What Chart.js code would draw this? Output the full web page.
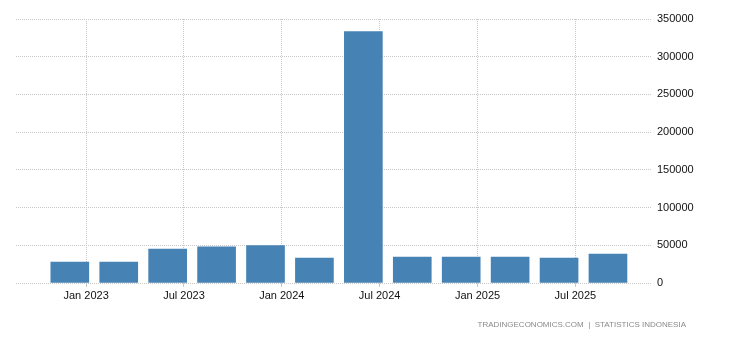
<!DOCTYPE html>
<html>
<head>
<meta charset="utf-8">
<script src="https://cdn.jsdelivr.net/npm/chart.js@4.4.1/dist/chart.umd.min.js"></script>
<style>
body { margin: 0; background: #fff; }
#wrap { position: relative; width: 730px; height: 340px; }
#src { position: absolute; right: 44px; top: 320px; font: 8px Arial, "Liberation Sans", sans-serif; color: #8a8a8a; white-space: nowrap; }
</style>
</head>
<body>
<div id="wrap">
  <canvas id="myChart" width="730" height="340"></canvas>
  <div id="src">TRADINGECONOMICS.COM &nbsp;|&nbsp; STATISTICS INDONESIA</div>
</div>
<script>
// quarters (end month), counted in months from Jan 2023
var quarterMonths = [-1, 2, 5, 8, 11, 14, 17, 20, 23, 26, 29, 32];
var values = [27900, 27900, 45100, 47800, 49600, 33200, 333300, 34500, 34500, 34500, 33200, 38500];

// x axis ticks
var tickMonths = [0, 6, 12, 18, 24, 30];
var tickLabels = ['Jan 2023', 'Jul 2023', 'Jan 2024', 'Jul 2024', 'Jan 2025', 'Jul 2025'];

var yTicks = [0, 50000, 100000, 150000, 200000, 250000, 300000, 350000];

var ctx = document.getElementById('myChart').getContext('2d');

var points = quarterMonths.map(function (m, i) {
    return { x: m, y: values[i] };
});

var gridColor = '#c8c8c8';

var myChart = new Chart(ctx, {
    type: 'bar',
    data: {
        datasets: [{
            data: points,
            backgroundColor: '#4682b4',
            borderWidth: 0,
            barThickness: 38
        }]
    },
    options: {
        responsive: false,
        animation: false,
        devicePixelRatio: 1,
        layout: { padding: { left: 16, top: 19, right: 0, bottom: 0 } },
        plugins: { legend: { display: false }, tooltip: { enabled: false } },
        scales: {
            x: {
                type: 'linear',
                offset: false,
                min: -4.3,
                max: 34.7,
                afterBuildTicks: function (scale) {
                    scale.ticks = tickMonths.map(function (v) { return { value: v }; });
                },
                afterFit: function (scale) { scale.height = 57; },
                ticks: {
                    autoSkip: false,
                    maxRotation: 0,
                    padding: 2,
                    color: '#111',
                    font: { family: 'Arial, "Liberation Sans", sans-serif', size: 11 },
                    callback: function (v) {
                        var i = tickMonths.indexOf(v);
                        return i >= 0 ? tickLabels[i] : '';
                    }
                },
                grid: {
                    color: gridColor,
                    offset: false,
                    drawTicks: true,
                    tickLength: 4
                },
                border: { display: false, dash: [1, 1] }
            },
            y: {
                position: 'right',
                min: 0,
                max: 350000,
                afterBuildTicks: function (scale) {
                    scale.ticks = yTicks.map(function (v) { return { value: v }; });
                },
                afterFit: function (scale) { scale.width = 78; },
                ticks: {
                    padding: 5,
                    color: '#111',
                    font: { family: 'Arial, "Liberation Sans", sans-serif', size: 11 },
                    callback: function (v) { return String(v); }
                },
                grid: {
                    color: gridColor,
                    drawTicks: false,
                    tickLength: 0
                },
                border: { display: false, dash: [1, 1] }
            }
        }
    }
});
</script>
</body>
</html>
